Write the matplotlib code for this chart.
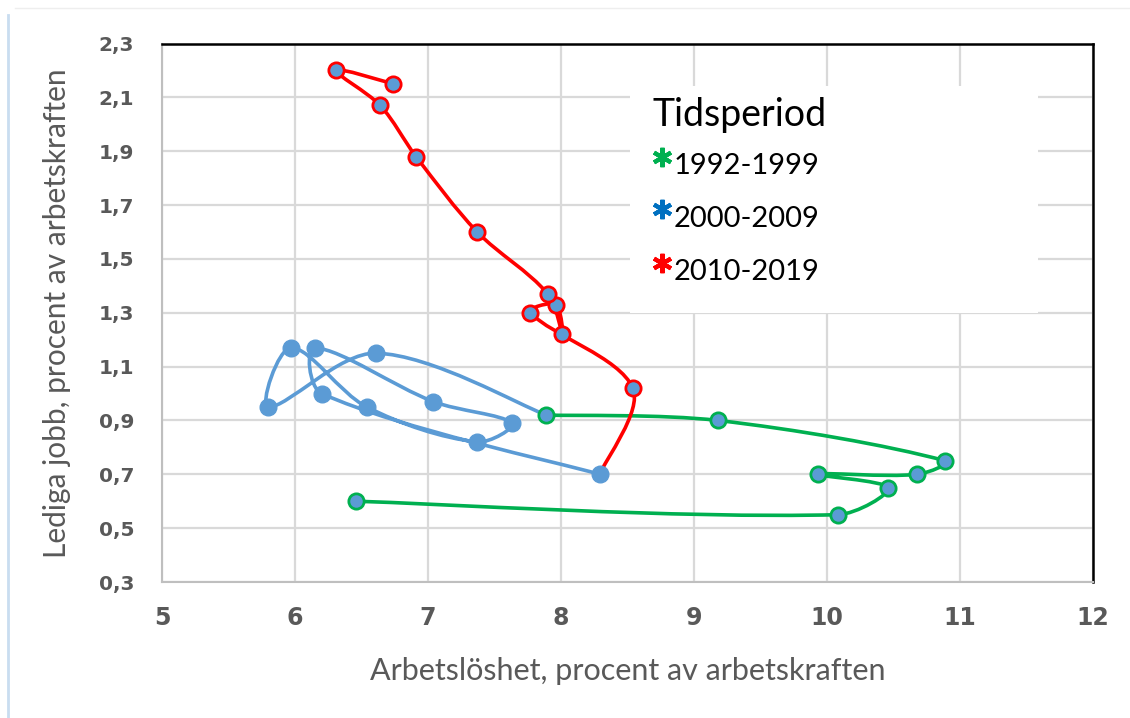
import numpy as np
import matplotlib
matplotlib.use('Agg')
import matplotlib.pyplot as plt
from matplotlib.path import Path
from matplotlib.patches import PathPatch, Rectangle
from matplotlib.lines import Line2D

# Arbetslöshet (x) och lediga jobb (y), procent av arbetskraften
x_9299 = [6.46, 10.08, 10.46, 9.93, 10.68, 10.89, 9.18, 7.89]
y_9299 = [0.60, 0.55, 0.65, 0.70, 0.70, 0.75, 0.90, 0.92]

x_0009 = [6.61, 5.80, 5.97, 6.54, 7.37, 7.63, 7.04, 6.15, 6.20, 8.29]
y_0009 = [1.15, 0.95, 1.17, 0.95, 0.82, 0.89, 0.97, 1.17, 1.00, 0.70]

x_1019 = [8.54, 7.77, 7.96, 8.01, 7.90, 7.37, 6.91, 6.64, 6.31, 6.74]
y_1019 = [1.02, 1.30, 1.33, 1.22, 1.37, 1.60, 1.88, 2.07, 2.20, 2.15]

periods = ['1992-1999', '2000-2009', '2010-2019']
star_colors = ['#00B050', '#0070C0', '#FF0000']

x_ticks = [5, 6, 7, 8, 9, 10, 11, 12]
y_ticks = [0.3, 0.5, 0.7, 0.9, 1.1, 1.3, 1.5, 1.7, 1.9, 2.1, 2.3]
y_ticklabels = ['0,3', '0,5', '0,7', '0,9', '1,1', '1,3', '1,5', '1,7', '1,9', '2,1', '2,3']

GREEN = '#00B050'
RED = '#FF0000'
BLUE = '#5B9BD5'
GRAY = '#595959'


def smooth_path(ax, xs, ys):
    # Excel-liknande utjämnad linje, beräknad i skärmkoordinater:
    # tangenterna skalas med segmentlängderna så korta segment inte skjuter över
    p = ax.transData.transform(np.column_stack([xs, ys]).astype(float))
    n = len(p)
    d = np.hypot(*np.diff(p, axis=0).T)
    verts = [p[0]]
    codes = [Path.MOVETO]
    for i in range(n - 1):
        if i > 0:
            t0 = (p[i + 1] - p[i - 1]) * d[i] / (d[i - 1] + d[i]) / 3.0
        else:
            t0 = (p[i + 1] - p[i]) / 6.0
        if i + 2 < n:
            t1 = (p[i + 2] - p[i]) * d[i] / (d[i] + d[i + 1]) / 3.0
        else:
            t1 = (p[i + 1] - p[i]) / 6.0
        verts += [p[i] + t0, p[i + 1] - t1, p[i + 1]]
        codes += [Path.CURVE4] * 3
    verts = ax.transData.inverted().transform(np.array(verts))
    return Path(verts, codes)


fig = plt.figure(figsize=(11.3, 7.18), dpi=100)
ax = fig.add_axes([0.1434, 0.1894, 0.8239, 0.75])

ax.set_xlim(5, 12)
ax.set_ylim(0.3, 2.3)
ax.set_xticks(x_ticks)
ax.set_yticks(y_ticks)
ax.set_yticklabels(y_ticklabels)
ax.set_axisbelow(True)
ax.grid(True, color='#D9D9D9', linewidth=1.6)

# linjer (varje period börjar i föregående periods sista punkt)
series = [
    (x_9299, y_9299, GREEN),
    ([x_9299[-1]] + x_0009, [y_9299[-1]] + y_0009, BLUE),
    ([x_0009[-1]] + x_1019, [y_0009[-1]] + y_1019, RED),
]
for xs, ys, c in series:
    ax.add_patch(PathPatch(smooth_path(ax, xs, ys), facecolor='none', edgecolor=c,
                           linewidth=2.6, zorder=2, capstyle='round', joinstyle='round'))

# markörer
ax.plot(x_9299, y_9299, 'o', ms=11, mfc=BLUE, mec=GREEN, mew=2.0, zorder=3)
ax.plot(x_0009, y_0009, 'o', ms=12, mfc=BLUE, mec=BLUE, mew=1.0, zorder=3)
ax.plot(x_1019, y_1019, 'o', ms=11, mfc=BLUE, mec=RED, mew=2.0, zorder=3)

for s in ['left', 'bottom']:
    ax.spines[s].set_color('#BFBFBF')
    ax.spines[s].set_linewidth(1.5)
for s in ['top', 'right']:
    ax.spines[s].set_color('black')
    ax.spines[s].set_linewidth(1.8)

ax.tick_params(length=0)
ax.tick_params(axis='y', pad=20)
ax.tick_params(axis='x', pad=17)
for lab in ax.get_yticklabels():
    lab.set_fontfamily('DejaVu Sans')
    lab.set_fontweight('bold')
    lab.set_fontsize(14.5)
    lab.set_color(GRAY)
for lab in ax.get_xticklabels():
    lab.set_fontfamily('DejaVu Sans')
    lab.set_fontweight('bold')
    lab.set_fontsize(17)
    lab.set_color(GRAY)

ax.set_xlabel('Arbetslöshet, procent av arbetskraften', fontfamily='Lato',
              fontsize=22, color=GRAY)
ax.set_ylabel('Lediga jobb, procent av arbetskraften', fontfamily='Lato',
              fontsize=21.5, color=GRAY)
ax.xaxis.set_label_coords(0.5, -0.14)
ax.yaxis.set_label_coords(-0.098, 0.5)

# förklaring
ax.add_patch(Rectangle((0.5027, 0.4995), 0.4383, 0.4215, transform=ax.transAxes,
                       facecolor='white', edgecolor='none', zorder=1.5))
ax.text(0.527, 0.867, 'Tidsperiod', transform=ax.transAxes, fontfamily='Lato',
        fontsize=27, color='black', va='center', ha='left', zorder=4)
entry_y = [0.772, 0.675, 0.5757]
for lab, c, ey in zip(periods, star_colors, entry_y):
    ax.plot([0.5375], [ey + 0.017], marker=(6, 2, 0), ms=14, mew=3.0, color=c,
            transform=ax.transAxes, zorder=4, clip_on=False)
    ax.text(0.5499, ey, lab, transform=ax.transAxes, fontfamily='Lato',
            fontsize=21, color='black', va='center', ha='left', zorder=4)

# ram runt bilden
fig.add_artist(Line2D([8 / 1130, 8 / 1130], [0, 1 - 15 / 718], color='#C9DDF0', lw=2))
fig.add_artist(Line2D([15 / 1130, 1], [1 - 8 / 718, 1 - 8 / 718], color='#EEEEEE', lw=1))

fig.savefig('out.png', dpi=100)
